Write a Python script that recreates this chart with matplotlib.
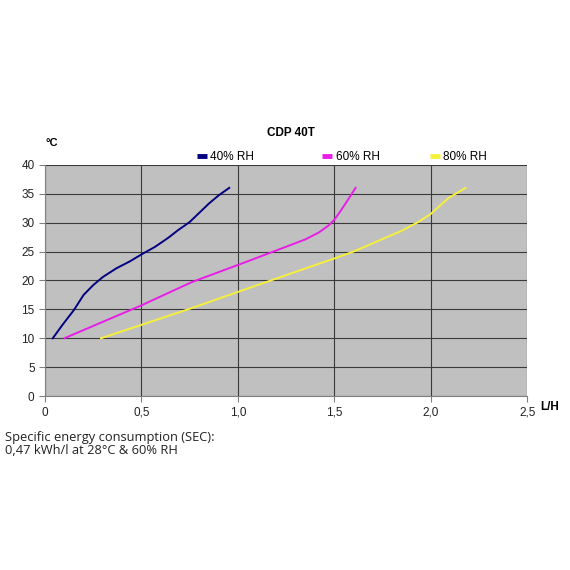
import numpy as np
import matplotlib
matplotlib.use('Agg')
import matplotlib.pyplot as plt

# Werte (L/H , Grad C)
rh40_x = [0.04, 0.09, 0.15, 0.20, 0.25, 0.30, 0.37, 0.44, 0.50, 0.57, 0.64, 0.69, 0.75, 0.80, 0.85, 0.90, 0.955]
rh40_y = [10.0, 12.3, 14.9, 17.5, 19.2, 20.6, 22.1, 23.3, 24.5, 25.8, 27.4, 28.7, 30.1, 31.7, 33.3, 34.7, 36.0]

rh60_x = [0.10, 0.50, 0.76, 1.05, 1.24, 1.35, 1.42, 1.47, 1.50, 1.53, 1.56, 1.585, 1.61]
rh60_y = [10.0, 15.7, 19.7, 23.3, 25.7, 27.1, 28.3, 29.5, 30.5, 31.9, 33.4, 34.7, 36.0]

rh80_x = [0.29, 0.75, 1.05, 1.24, 1.50, 1.60, 1.76, 1.85, 1.93, 2.00, 2.09, 2.18]
rh80_y = [10.0, 15.1, 18.6, 20.8, 23.8, 25.0, 27.3, 28.6, 30.0, 31.5, 34.2, 36.0]

labels = ['40% RH', '60% RH', '80% RH']
farben = ['#000080', '#e81ee8', '#f5f03c']

xticks = [0, 0.5, 1.0, 1.5, 2.0, 2.5]
xtick_labels = ['0', '0,5', '1,0', '1,5', '2,0', '2,5']
yticks = [0, 5, 10, 15, 20, 25, 30, 35, 40]

plt.rcParams['font.family'] = ['Liberation Sans', 'DejaVu Sans']

fig = plt.figure(figsize=(5.7, 5.7), dpi=100)
ax = fig.add_axes([0.079, 0.305, 0.846, 0.406])
ax.set_facecolor('#c0c0c0')

linien = []
for xs, ys, f, lab in zip([rh40_x, rh60_x, rh80_x], [rh40_y, rh60_y, rh80_y], farben, labels):
    l, = ax.plot(xs, ys, color=f, lw=1.4, label=lab, solid_joinstyle='round')
    linien.append(l)

ax.set_xlim(0, 2.5)
ax.set_ylim(0, 40)
ax.set_xticks(xticks)
ax.set_xticklabels(xtick_labels)
ax.set_yticks(yticks)
ax.grid(True, color='#3a3a3a', lw=0.8)
ax.set_axisbelow(True)
for s in ['top', 'right']:
    ax.spines[s].set_visible(False)
for s in ['left', 'bottom']:
    ax.spines[s].set_color('#808080')
ax.tick_params(colors='#808080', labelcolor='#222222', labelsize=8.5, length=4, width=0.8)

fig.text(0.511, 0.767, 'CDP 40T', ha='center', va='center', fontsize=8.5, fontweight='bold')
fig.text(0.079, 0.749, '°C', ha='left', va='center', fontsize=8, fontweight='bold')
fig.text(0.947, 0.286, 'L/H', ha='left', va='center', fontsize=8.5, fontweight='bold')

# Legende: drei einzelne Eintraege wie im Original
leg_pos = [0.345, 0.565, 0.754]
for l, xp in zip(linien, leg_pos):
    lg = fig.legend(handles=[l], loc='center left', bbox_to_anchor=(xp, 0.724),
                    frameon=False, fontsize=8.5, handlelength=0.85, handletextpad=0.3,
                    borderpad=0, borderaxespad=0)
    lg.get_lines()[0].set_linewidth(3.5)
    lg.get_lines()[0].set_solid_capstyle('butt')

fig.text(0.008, 0.221, 'Specific energy consumption (SEC):\n0,47 kWh/l at 28°C & 60% RH',
         ha='left', va='center', fontsize=9.3, family=['Open Sans', 'DejaVu Sans'],
         color='#222222', linespacing=1.05)

plt.savefig('out.png', dpi=100)
